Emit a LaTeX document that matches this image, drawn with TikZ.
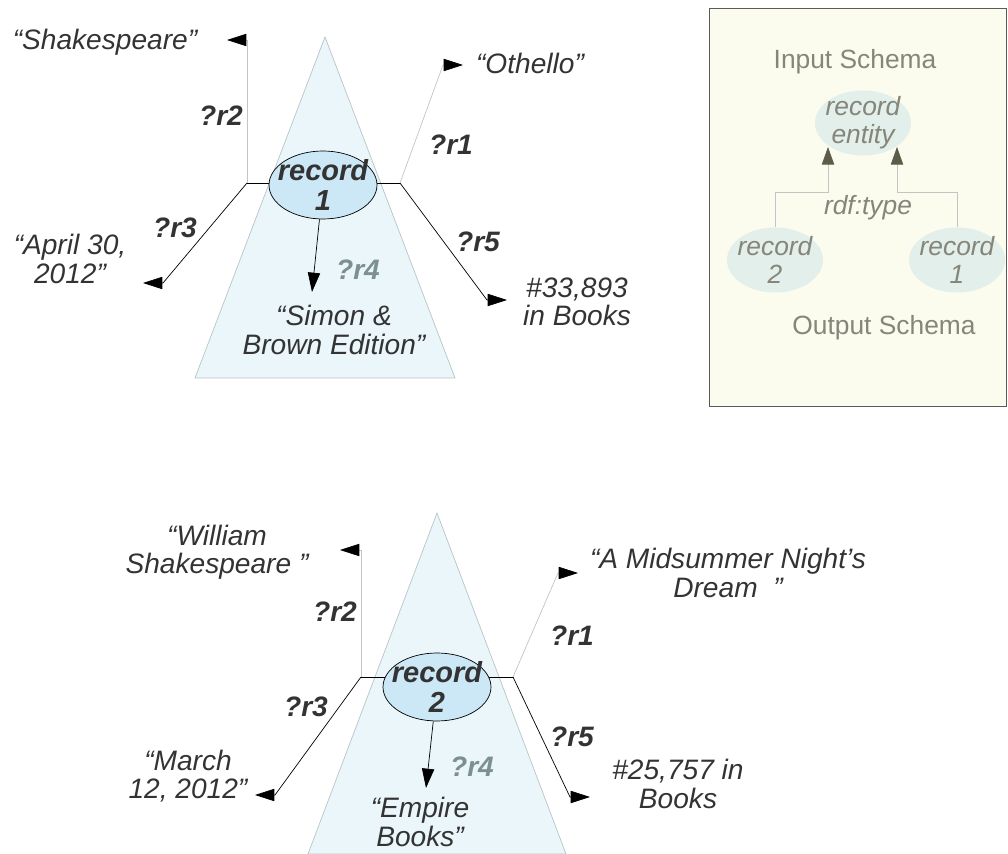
\documentclass[tikz,border=0pt]{standalone}
\usepackage{fontspec}
\setmainfont{Liberation Sans}
\usetikzlibrary{arrows.meta,shapes.geometric}

\definecolor{txtgray}{HTML}{333333}
\definecolor{trifill}{HTML}{EAF6FA}
\definecolor{triline}{HTML}{B8C4C8}
\definecolor{recfill}{HTML}{CCE8F6}
\definecolor{lightline}{HTML}{C4C4C4}
\definecolor{rfour}{HTML}{7D9090}
\definecolor{schemabg}{HTML}{FBFBEE}
\definecolor{schemaframe}{HTML}{5A5A5A}
\definecolor{schematxt}{HTML}{85857A}
\definecolor{schemaell}{HTML}{E2EFEA}
\definecolor{schemaarr}{HTML}{5C5C48}

\tikzset{
  val/.style={text=txtgray, font=\fontsize{16}{16}\selectfont\itshape, align=center, inner sep=0pt},
  rel/.style={text=txtgray, font=\fontsize{16}{16}\selectfont\bfseries\itshape, inner sep=0pt},
  recell/.style={ellipse, draw=black, fill=recfill, inner sep=0pt, minimum width=2.16cm, minimum height=1.36cm},
  rectxt/.style={text=txtgray, font=\fontsize{16.5}{17.5}\selectfont\bfseries\itshape, align=center, inner sep=0pt},
  arr/.style={-{Triangle[length=11pt,width=7pt,color=black]}},
  schtxt/.style={text=schematxt, font=\fontsize{15}{16}\selectfont, align=center, inner sep=0pt},
  schit/.style={schtxt, font=\fontsize{15}{16}\selectfont\itshape},
  schell/.style={ellipse, fill=schemaell, inner sep=0pt, minimum width=1.92cm, minimum height=1.3cm},
  sarr/.style={lightline, -{Triangle[length=10pt,width=7pt,color=schemaarr]}}
}

\begin{document}
\begin{tikzpicture}[x=0.02cm, y=-0.02cm]
  \useasboundingbox (0,0) rectangle (1008,854);

  % upper record
  \draw[triline, fill=trifill] (325,37) -- (455,378) -- (195,378) -- cycle;
  \coordinate (jl1) at (247,183);
  \coordinate (jr1) at (400,183);
  \draw (jl1) -- (jr1);
  \node[recell] (rec1) at (323,185) {};
  \node[rectxt] (rec1txt) at (rec1) {record\\1};

  \node[val] (shk)  at (105,42)  {“Shakespeare”};
  \node[val] (oth)  at (530,63)  {“Othello”};
  \node[val] (apr)  at (70,259)  {“April 30,\\2012”};
  \node[val] (sim)  at (334,330) {“Simon \&\\Brown Edition”};
  \node[val] (rank1) at (577,302) {\#33,893\\in Books};

  \coordinate (shktip) at (227,40);
  \coordinate (othbend) at (443,65);
  \coordinate (othtip) at (463,65);
  \coordinate (aprbend) at (163,283);
  \coordinate (aprtip) at (143,283);
  \coordinate (rankbend) at (487,300);
  \coordinate (ranktip) at (507,300);
  \coordinate (simtip) at (312,292);

  \draw[arr, lightline] (jl1) |- (shktip);
  \draw[arr, lightline] (jr1) -- (othbend) -- (othtip);
  \draw[arr] (jl1) -- (aprbend) -- (aprtip);
  \draw[arr] (jr1) -- (rankbend) -- (ranktip);
  \draw[arr] (rec1) -- (simtip);

  \node[rel] (r2a) at (221,116) {?r2};
  \node[rel] (r1a) at (451,145) {?r1};
  \node[rel] (r3a) at (175,228) {?r3};
  \node[rel, text=rfour] (r4a) at (358,270) {?r4};
  \node[rel] (r5a) at (478,242) {?r5};

  % lower record
  \draw[triline, fill=trifill] (437,513) -- (566,854) -- (308,854) -- cycle;
  \coordinate (jl2) at (361,677);
  \coordinate (jr2) at (513,677);
  \draw (jl2) -- (jr2);
  \node[recell] (rec2) at (437,687) {};
  \node[rectxt] (rec2txt) at (rec2) {record\\2};

  \node[val] (wil)  at (217,552) {“William\\Shakespeare ”};
  \node[val] (mid)  at (728,573) {“A Midsummer Night\symbol{39}s\\Dream~~”};
  \node[val] (mar)  at (188,776) {“March\\12, 2012”};
  \node[val] (emp)  at (420,822) {“Empire\\Books”};
  \node[val] (rank2) at (678,784) {\#25,757 in\\Books};

  \coordinate (wiltip) at (340,550);
  \coordinate (midbend) at (558,573);
  \coordinate (midtip) at (578,573);
  \coordinate (marbend) at (275,795);
  \coordinate (martip) at (255,795);
  \coordinate (rank2bend) at (570,797);
  \coordinate (rank2tip) at (590,797);
  \coordinate (emptip) at (426,788);

  \draw[arr, lightline] (jl2) |- (wiltip);
  \draw[arr, lightline] (jr2) -- (midbend) -- (midtip);
  \draw[arr] (jl2) -- (marbend) -- (martip);
  \draw[arr] (jr2) -- (rank2bend) -- (rank2tip);
  \draw[arr] (rec2) -- (emptip);

  \node[rel] (r2b) at (335,612) {?r2};
  \node[rel] (r1b) at (572,636) {?r1};
  \node[rel] (r3b) at (306,707) {?r3};
  \node[rel, text=rfour] (r4b) at (472,767) {?r4};
  \node[rel] (r5b) at (572,737) {?r5};

  % schema box
  \draw[schemaframe, fill=schemabg] (709,8) rectangle (1006,406);
  \node[schtxt] (insch)  at (855,62)  {Input Schema};
  \node[schtxt] (outsch) at (884,328) {Output Schema};
  \node[schell] (ent)   at (863,123) {};
  \node[schit] (enttxt) at (ent) {record\\entity};
  \node[schell] (srec2) at (775,260) {};
  \node[schit] (srec2txt) at (srec2) {record\\2};
  \node[schell] (srec1) at (957,260) {};
  \node[schit] (srec1txt) at (srec1) {record\\1};
  \node[schit] (rdft) at (868,208) {rdf:type};

  \coordinate (entl) at (828,147);
  \coordinate (entr) at (897,147);
  \draw[sarr] (srec2.north) -- ++(0,-35) -| (entl);
  \draw[sarr] (srec1.north) -- ++(0,-35) -| (entr);
\end{tikzpicture}
\end{document}
